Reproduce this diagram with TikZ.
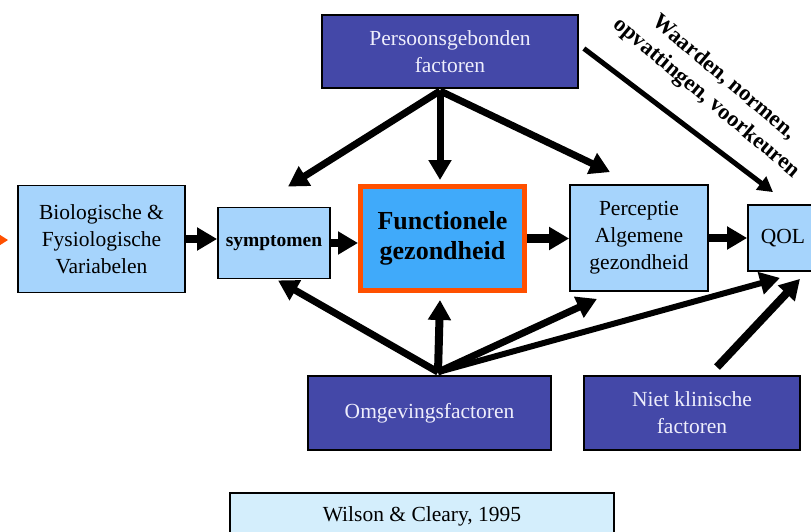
\documentclass[tikz,border=0pt]{standalone}
\usepackage{fontspec}
\setmainfont{Liberation Serif}
\usetikzlibrary{arrows.meta,calc}
\definecolor{darkblue}{RGB}{68,72,168}
\definecolor{lightblue}{RGB}{166,212,252}
\definecolor{funcblue}{RGB}{64,170,250}
\definecolor{orangeb}{RGB}{255,80,0}
\definecolor{paleblue}{RGB}{212,238,252}
\definecolor{lighttext}{RGB}{238,238,252}
\begin{document}
\begin{tikzpicture}[x=1pt,y=-1pt,
  box/.style={draw=black,line width=1.8pt,inner sep=0pt,align=center,font=\fontsize{21.5}{27}\selectfont},
  lightbox/.style={box,fill=lightblue,text=black},
  darkbox/.style={box,fill=darkblue,text=lighttext},
  arr/.style={line width=8.5pt,-{Triangle[length=20pt,width=22pt]}},
  fan/.style={line width=7pt,-{Triangle[length=20pt,width=22pt]}},
  thinarr/.style={line width=5pt,-{Triangle[length=15pt,width=16pt]}}
]
\useasboundingbox (0,0) rectangle (811,532);

% nodes
\node[darkbox,minimum width=256pt,minimum height=73pt] (pers) at (450,51.5) {Persoonsgebonden\\factoren};
\node[lightbox,minimum width=167pt,minimum height=107pt] (bio) at (101.5,239) {Biologische \&\\Fysiologische\\Variabelen};
\node[lightbox,minimum width=112pt,minimum height=71pt,font=\bfseries\fontsize{19.5}{24}\selectfont] (sym) at (274,243) {symptomen};
\node[box,draw=orangeb,line width=5pt,fill=funcblue,minimum width=164pt,minimum height=104pt,font=\bfseries\fontsize{26}{30}\selectfont] (func) at (442.5,238.5) {Functionele\\gezondheid};
\node[lightbox,minimum width=138pt,minimum height=106pt] (perc) at (639,238) {Perceptie\\Algemene\\gezondheid};
\node[lightbox,minimum width=70pt,minimum height=66pt] (qol) at (783,238) {QOL};
\node[darkbox,minimum width=243pt,minimum height=74pt] (omg) at (429.5,413) {Omgevingsfactoren};
\node[darkbox,minimum width=216pt,minimum height=74pt] (niet) at (692,413) {Niet klinische\\factoren};
\node[box,fill=paleblue,minimum width=384pt,minimum height=46pt] (wil) at (422,516) {Wilson \& Cleary, 1995};
\node[font=\bfseries\fontsize{22.5}{27}\selectfont,rotate=-40,align=center,inner sep=0pt] (wnv) at (715,88) {Waarden, normen,\\opvattingen, voorkeuren};

% red arrow tip at left edge
\fill[orangeb] (-14,226) -- (8,240) -- (-14,254) -- cycle;

% horizontal arrows
\draw[arr] (bio.east) -- (bio.east -| sym.west);
\draw[arr] (sym.east) -- (sym.east -| func.west);
\draw[arr] (func.east) -- (func.east -| perc.west);
\draw[arr] (perc.east) -- (perc.east -| qol.west);

% fan from Persoonsgebonden
\coordinate (ps) at ($(pers.south)+(-10,2)$);
\coordinate (t1) at ($(sym.north)+(14,-20)$);
\coordinate (t2) at ($(func.north)+(-2.5,-4)$);
\coordinate (t3) at ($(perc.north)+(-29,-12)$);
\draw[fan] (ps) -- (t1);
\draw[fan] (ps) -- (t2);
\draw[fan] (ps) -- (t3);
\draw[thinarr] ($(pers.east)+(5,-3)$) -- ($(qol.north)+(-10,-12)$);

% fan from Omgevingsfactoren
\coordinate (os) at ($(omg.north)+(8.5,-3)$);
\coordinate (u1) at ($(sym.south)+(4,1)$);
\coordinate (u2) at ($(func.south)+(-2.5,7)$);
\coordinate (u3) at ($(perc.south)+(-42,7)$);
\coordinate (u4) at ($(qol.south)+(-3,6)$);
\draw[fan] (os) -- (u1);
\draw[fan,line width=8pt] (os) -- (u2);
\draw[fan] (os) -- (u3);
\draw[fan,line width=6pt] (os) -- (u4);
\draw[fan,line width=8pt] ($(niet.north)+(25,-8)$) -- ($(qol.south)+(17,7)$);
\end{tikzpicture}
\end{document}
